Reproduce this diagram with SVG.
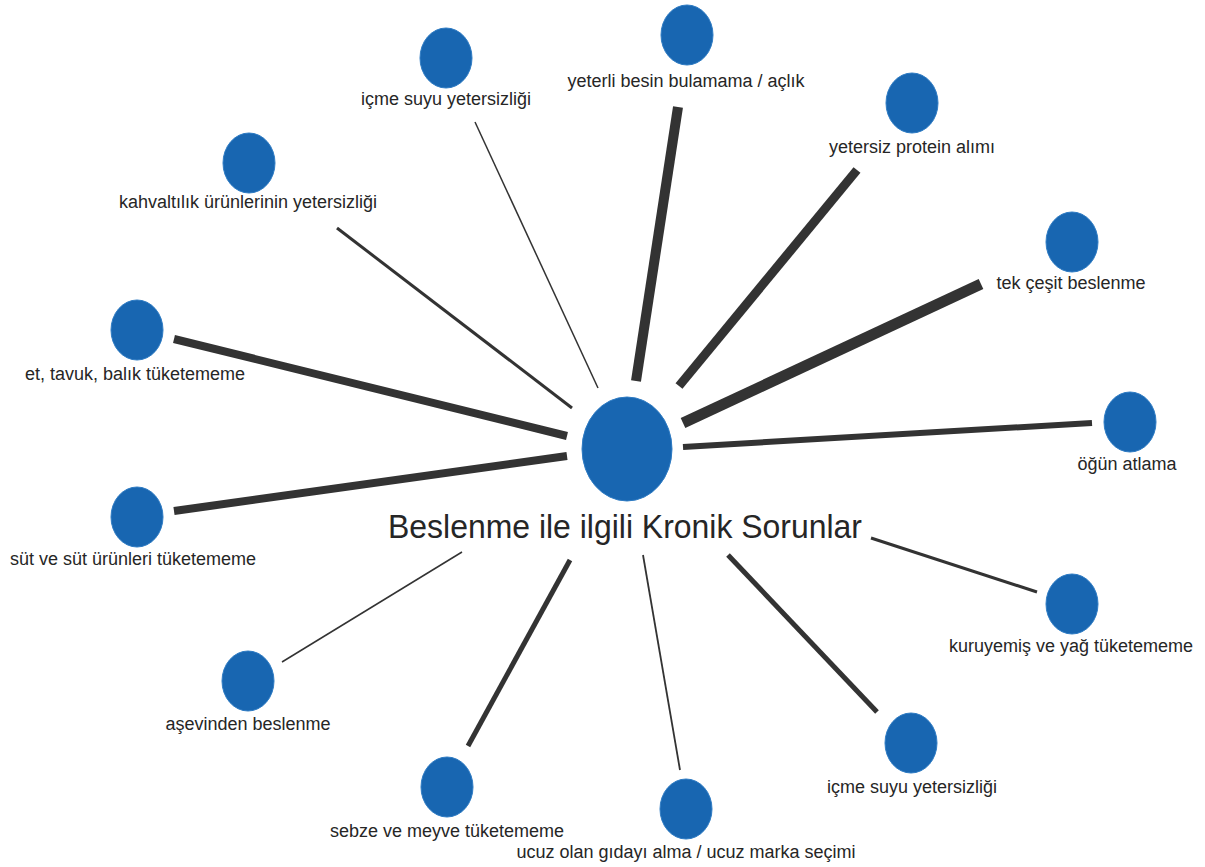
<svg xmlns="http://www.w3.org/2000/svg" width="1205" height="867" viewBox="0 0 1205 867">
<style>
.node{fill:#1866b1;stroke:#2f7cc4;stroke-width:1}
.lbl{font-family:"Liberation Sans",Arial,sans-serif;font-size:18px;fill:#262626;text-anchor:middle}
.main{font-family:"Liberation Sans",Arial,sans-serif;font-size:34px;fill:#262626;text-anchor:middle}
.c{stroke:#333;stroke-linecap:butt;fill:none}
</style>
<rect width="1205" height="867" fill="#fff"/>
<g id="connectors">
<line class="c" x1="598" y1="388" x2="475" y2="122" stroke-width="1.5"/>
<line class="c" x1="636" y1="381" x2="678" y2="107" stroke-width="10"/>
<line class="c" x1="679" y1="386" x2="857" y2="170" stroke-width="9"/>
<line class="c" x1="572" y1="408" x2="337" y2="228" stroke-width="3"/>
<line class="c" x1="683" y1="423" x2="981" y2="284" stroke-width="11"/>
<line class="c" x1="567" y1="436" x2="174" y2="339" stroke-width="8"/>
<line class="c" x1="683" y1="447" x2="1092" y2="423" stroke-width="6"/>
<line class="c" x1="567" y1="456" x2="174" y2="511" stroke-width="8"/>
<line class="c" x1="871" y1="538" x2="1037" y2="592" stroke-width="3"/>
<line class="c" x1="462" y1="552" x2="282" y2="662" stroke-width="1.5"/>
<line class="c" x1="570" y1="560" x2="468" y2="746" stroke-width="5"/>
<line class="c" x1="643" y1="555" x2="680" y2="770" stroke-width="1.8"/>
<line class="c" x1="728" y1="555" x2="877" y2="712" stroke-width="5"/>
</g>
<g id="center">
<ellipse class="node" cx="627" cy="449" rx="45" ry="52"/>
<text class="main" x="625" y="538" textLength="474" lengthAdjust="spacingAndGlyphs">Beslenme ile ilgili Kronik Sorunlar</text>
</g>
<g id="n-icme-top">
<ellipse class="node" cx="446" cy="58" rx="26" ry="30"/>
<text class="lbl" x="446" y="105">içme suyu yetersizliği</text>
</g>
<g id="n-yeterli">
<ellipse class="node" cx="687" cy="35" rx="26" ry="30"/>
<text class="lbl" x="686" y="87">yeterli besin bulamama / açlık</text>
</g>
<g id="n-protein">
<ellipse class="node" cx="912" cy="103" rx="26" ry="30"/>
<text class="lbl" x="912" y="153">yetersiz protein alımı</text>
</g>
<g id="n-kahvalti">
<ellipse class="node" cx="249" cy="163" rx="26" ry="30"/>
<text class="lbl" x="248" y="208">kahvaltılık ürünlerinin yetersizliği</text>
</g>
<g id="n-tek">
<ellipse class="node" cx="1072" cy="242" rx="26" ry="30"/>
<text class="lbl" x="1071" y="289">tek çeşit beslenme</text>
</g>
<g id="n-et">
<ellipse class="node" cx="137" cy="330" rx="26" ry="30"/>
<text class="lbl" x="135" y="380">et, tavuk, balık tüketememe</text>
</g>
<g id="n-ogun">
<ellipse class="node" cx="1130" cy="422" rx="26" ry="30"/>
<text class="lbl" x="1127" y="470">öğün atlama</text>
</g>
<g id="n-sut">
<ellipse class="node" cx="137" cy="517" rx="26" ry="30"/>
<text class="lbl" x="133" y="565">süt ve süt ürünleri tüketememe</text>
</g>
<g id="n-kuruyemis">
<ellipse class="node" cx="1072" cy="604" rx="26" ry="30"/>
<text class="lbl" x="1071" y="652">kuruyemiş ve yağ tüketememe</text>
</g>
<g id="n-asevi">
<ellipse class="node" cx="248" cy="681" rx="26" ry="30"/>
<text class="lbl" x="248" y="730">aşevinden beslenme</text>
</g>
<g id="n-icme-bottom">
<ellipse class="node" cx="911" cy="743" rx="26" ry="30"/>
<text class="lbl" x="912" y="793">içme suyu yetersizliği</text>
</g>
<g id="n-sebze">
<ellipse class="node" cx="447" cy="787" rx="26" ry="30"/>
<text class="lbl" x="447" y="837">sebze ve meyve tüketememe</text>
</g>
<g id="n-ucuz">
<ellipse class="node" cx="686" cy="809" rx="26" ry="30"/>
<text class="lbl" x="686" y="858">ucuz olan gıdayı alma / ucuz marka seçimi</text>
</g>
</svg>
